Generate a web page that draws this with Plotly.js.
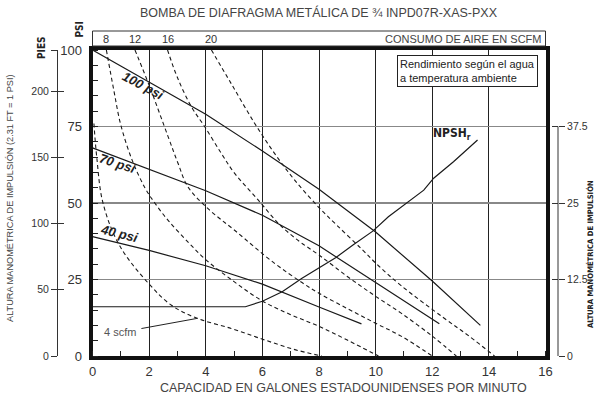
<!DOCTYPE html>
<html>
<head>
<meta charset="utf-8">
<script src="https://cdn.plot.ly/plotly-3.0.1.min.js"></script>
<style>
    html, body { margin: 0; padding: 0; background: #fff; }
    #chart { width: 602px; height: 399px; }
</style>
</head>
<body>
<div id="chart"></div>
<script>
// Flow in US gallons per minute, discharge head in psi
const psi100Flow = [0, 2, 4, 6, 8, 10, 12, 13.7];
const psi100Head = [100, 89.5, 79, 67, 54.5, 40.5, 24.5, 10];
const psi70Flow = [0, 2, 4, 6, 8, 10, 12.25];
const psi70Head = [68, 61, 54, 46, 36, 24, 10.5];
const psi40Flow = [0, 2, 4, 6, 8, 9.5];
const psi40Head = [39, 34.5, 29.5, 23.5, 16, 10.5];

const npshFlow = [0, 5.4, 6.0, 6.7, 7.4, 8.1, 8.6, 9.2, 9.9, 10.45, 11.1, 11.7, 12.05, 12.75, 13.6];
const npshHead = [16.1, 16.1, 17.9, 21, 25.4, 29.4, 32.2, 36.3, 40.8, 45.5, 49.9, 54.2, 58.1, 63.5, 70.6];

// Air consumption curves (scfm)
const air4Flow = [0.05, 0.15, 0.37, 0.96, 2.0, 2.8, 3.7, 4.9, 6.0, 7.1, 8.1];
const air4Head = [76, 65, 50, 36, 23.5, 16.5, 12.3, 9, 5.5, 2.2, 0];
const air8Flow = [0.49, 0.75, 1.0, 1.4, 1.85, 2.2, 2.7, 3.4, 4.0, 5.0, 6.0, 7.0, 8.0, 9.0, 10.1];
const air8Head = [100, 87, 75.5, 64, 55, 50, 44, 37, 31.5, 24.3, 18, 13.5, 9.7, 5.2, 0];
const air12Flow = [1.5, 2.02, 2.67, 3.02, 3.37, 4.1, 5.03, 6.4, 7.4, 8.0, 9.0, 10.0, 10.9, 12.0];
const air12Head = [100, 88, 71.7, 63, 55.3, 48, 41, 30.5, 24, 20.5, 15.5, 10.7, 6.5, 0];
const air16Flow = [2.65, 3.0, 3.49, 3.96, 4.55, 5.02, 5.85, 6.6, 7.3, 8.0, 9.0, 10.0, 10.9, 12.0, 12.85];
const air16Head = [100, 91, 81.5, 75, 66.2, 59.7, 51, 43, 37.5, 33, 26, 19.5, 14, 6.5, 0];
const air20Flow = [4.2, 4.9, 5.73, 6.43, 7.14, 8.0, 8.6, 9.5, 10.1, 10.9, 12.4, 13.3, 14.2];
const air20Head = [100, 89, 76, 66.2, 57.5, 48.5, 43, 35, 29.5, 23, 12.5, 6.5, 0];

const psiTicks = [0, 25, 50, 75, 100];
const feetTicks = [0, 50, 100, 150, 200];
const meterTicks = [0, 12.5, 25, 37.5];
const flowTicks = [0, 2, 4, 6, 8, 10, 12, 14, 16];

const FT_PER_PSI = 2.31;
const W = 602;
const PLOT_L = 92.5, PLOT_R = 545.5, PLOT_T = 50, PLOT_B = 356;

const BASE_FONT = "'Liberation Sans', Arial, sans-serif";
const NARROW_FONT = "'Liberation Sans Narrow', 'DejaVu Sans Condensed', sans-serif";

class PumpChart {
    constructor() {
        this.traces = [];
        this.render();
    }

    // convert a pixel position of the page to paper coords
    px(x) { return x / W; }
    py(y) { return (PLOT_B - y) / (PLOT_B - PLOT_T); }

    addLine(x, y, dashed) {
        this.traces.push({
            x: x,
            y: y,
            type: 'scatter',
            mode: 'lines',
            line: {
                color: '#1a1a1a',
                width: dashed ? 1.1 : 1.2,
                dash: dashed ? '4px,3px' : 'solid',
                shape: dashed ? 'spline' : 'linear'
            },
            hoverinfo: 'skip',
            showlegend: false
        });
    }

    // empty trace so an extra axis is drawn
    addAxisHolder(yaxis) {
        this.traces.push({x: [], y: [], xaxis: 'x', yaxis: yaxis, type: 'scatter', showlegend: false, hoverinfo: 'skip'});
    }

    buildTraces() {
        this.addLine(air4Flow, air4Head, true);
        this.addLine(air8Flow, air8Head, true);
        this.addLine(air12Flow, air12Head, true);
        this.addLine(air16Flow, air16Head, true);
        this.addLine(air20Flow, air20Head, true);
        this.addLine(psi100Flow, psi100Head, false);
        this.addLine(psi70Flow, psi70Head, false);
        this.addLine(psi40Flow, psi40Head, false);
        this.addLine(npshFlow, npshHead, false);
        ['y2', 'y3', 'y4', 'y5'].forEach(a => this.addAxisHolder(a));
    }

    buildAnnotations() {
        const notes = [];
        const txt = (text, x, y, opts) => notes.push(Object.assign({
            text: text, x: x, y: y, xref: 'paper', yref: 'paper',
            xanchor: 'center', yanchor: 'middle',
            showarrow: false, font: {family: BASE_FONT, size: 12, color: '#444'}
        }, opts || {}));

        txt('BOMBA DE DIAFRAGMA METÁLICA DE ¾ INPD07R-XAS-PXX', this.px(318.5), this.py(13), {font: {family: BASE_FONT, size: 12.5, color: '#444'}});
        txt('CAPACIDAD EN GALONES ESTADOUNIDENSES POR MINUTO', this.px(343.5), this.py(388), {font: {family: BASE_FONT, size: 12.5, color: '#444'}});
        txt('CONSUMO DE AIRE EN SCFM', this.px(543), this.py(39), {xanchor: 'right', font: {family: BASE_FONT, size: 11, color: '#444'}});

        // scfm labels at the top of each air curve
        [[air8Flow, '8'], [air12Flow, '12'], [air16Flow, '16'], [air20Flow, '20']].forEach(([fx, lab]) => {
            notes.push({text: lab, x: fx[0], xref: 'x', y: this.py(39), yref: 'paper', showarrow: false,
                xanchor: 'center', yanchor: 'middle',
                font: {family: BASE_FONT, size: 11, color: '#333'}});
        });

        txt('<b>PSI</b>', this.px(78.5), this.py(30), {textangle: -90, font: {family: NARROW_FONT, size: 10, color: '#222'}});
        txt('<b>PIES</b>', this.px(41), this.py(48), {textangle: -90, font: {family: NARROW_FONT, size: 10, color: '#222'}});
        txt('ALTURA MANOMÉTRICA DE IMPULSIÓN (2.31 FT = 1 PSI)', this.px(10), this.py(198), {textangle: -90, font: {family: BASE_FONT, size: 9.2, color: '#444'}});
        txt('<b>ALTURA MANOMÉTRICA DE IMPULSIÓN</b>', this.px(590), this.py(254), {textangle: -90, font: {family: NARROW_FONT, size: 7.6, color: '#222'}});

        // curve labels
        const curveFont = {family: BASE_FONT, size: 13, color: '#222'};
        notes.push({text: '<b><i>100 psi</i></b>', x: 1.78, y: 88.5, xref: 'x', yref: 'y', showarrow: false, textangle: 28, font: curveFont});
        notes.push({text: '<b><i>70 psi</i></b>', x: 0.88, y: 63, xref: 'x', yref: 'y', showarrow: false, textangle: 18, font: curveFont});
        notes.push({text: '<b><i>40 psi</i></b>', x: 0.94, y: 40, xref: 'x', yref: 'y', showarrow: false, textangle: 14, font: curveFont});
        notes.push({text: '<b>NPSH<sub>r</sub></b>', x: 12.7, y: 72.5, xref: 'x', yref: 'y', showarrow: false,
            font: {family: NARROW_FONT, size: 12, color: '#222'}});

        // 4 scfm with leader line to its curve
        notes.push({
            text: '4 scfm', x: air4Flow[6], y: air4Head[6], xref: 'x', yref: 'y',
            ax: 0.97, ay: 7.7, axref: 'x', ayref: 'y',
            showarrow: true, arrowhead: 0, arrowwidth: 1, arrowcolor: '#222', startstandoff: 4,
            font: {family: BASE_FONT, size: 11, color: '#555'}
        });

        notes.push({
            text: 'Rendimiento según el agua<br>a temperatura ambiente',
            x: 10.76, y: 98.4, xref: 'x', yref: 'y', xanchor: 'left', yanchor: 'top', align: 'left',
            showarrow: false, bordercolor: '#222', borderwidth: 1, borderpad: 2, bgcolor: '#fff',
            font: {family: BASE_FONT, size: 11, color: '#222'}
        });
        return notes;
    }

    buildLayout() {
        const feetRange = [0, 100 * FT_PER_PSI];
        const feetVals = feetTicks.concat([feetRange[1]]);
        const feetText = feetTicks.map(String).concat([' ']);
        const meterRange = [0, 50];
        const sideAxis = {
            overlaying: 'y', anchor: 'free',
            showgrid: false, zeroline: false, fixedrange: true,
            tickcolor: '#333', ticklen: 6, tickwidth: 1,
            tickfont: {family: BASE_FONT, size: 10.5, color: '#333'}
        };

        return {
            width: 602,
            height: 399,
            margin: {l: 0, r: 0, t: PLOT_T, b: 399 - PLOT_B},
            paper_bgcolor: '#fff',
            plot_bgcolor: '#fff',
            showlegend: false,
            xaxis: {
                domain: [this.px(PLOT_L), this.px(PLOT_R)],
                range: [0, 16],
                tickvals: flowTicks,
                ticks: '',
                showgrid: true, gridcolor: '#222', gridwidth: 1,
                zeroline: false,
                showline: true, linecolor: '#111', linewidth: 4, mirror: true,
                minor: {dtick: 1, ticks: 'inside', ticklen: 5, tickcolor: '#222', tickwidth: 1, showgrid: false},
                tickfont: {family: BASE_FONT, size: 13, color: '#333'},
                fixedrange: true
            },
            yaxis: {
                range: [0, 100],
                tickvals: psiTicks,
                ticks: '',
                showgrid: true, gridcolor: '#888', gridwidth: 1.5,
                zeroline: false,
                showline: true, linecolor: '#111', linewidth: 4, mirror: true,
                minor: {dtick: 5, ticks: 'inside', ticklen: 5, tickcolor: '#222', tickwidth: 1, showgrid: false},
                ticklabelstandoff: 4,
                tickfont: {family: BASE_FONT, size: 13, color: '#333'},
                fixedrange: true
            },
            // feet scale on the far left
            yaxis2: Object.assign({}, sideAxis, {
                position: this.px(57), side: 'left',
                range: feetRange, tickvals: feetVals, ticktext: feetText,
                ticks: 'outside', showline: true, linecolor: '#333', linewidth: 1
            }),
            yaxis4: Object.assign({}, sideAxis, {
                position: this.px(57), side: 'left',
                range: feetRange, tickvals: feetVals, ticks: 'inside', showticklabels: false, showline: false
            }),
            // right scale, psi / 2
            yaxis3: Object.assign({}, sideAxis, {
                position: this.px(558), side: 'right',
                range: meterRange, tickvals: meterTicks, ticktext: meterTicks.map(String),
                ticks: 'outside', showline: false
            }),
            yaxis5: Object.assign({}, sideAxis, {
                position: this.px(558), side: 'right',
                range: meterRange, tickvals: meterTicks, ticks: 'inside', showticklabels: false, showline: false
            }),
            shapes: [{
                type: 'rect', xref: 'paper', yref: 'paper',
                x0: this.px(PLOT_L), x1: this.px(PLOT_R), y0: this.py(46), y1: this.py(31),
                line: {color: '#333', width: 1}, fillcolor: 'rgba(0,0,0,0)'
            }, {
                // right scale line stops at its top tick
                type: 'line', xref: 'paper', yref: 'y3',
                x0: this.px(558), x1: this.px(558), y0: meterTicks[0], y1: meterTicks[meterTicks.length - 1],
                line: {color: '#333', width: 1}
            }],
            annotations: this.buildAnnotations()
        };
    }

    render() {
        this.buildTraces();
        Plotly.newPlot('chart', this.traces, this.buildLayout(), {displayModeBar: false, staticPlot: true});
    }
}

document.addEventListener('DOMContentLoaded', () => {
    new PumpChart();
});
</script>
</body>
</html>
